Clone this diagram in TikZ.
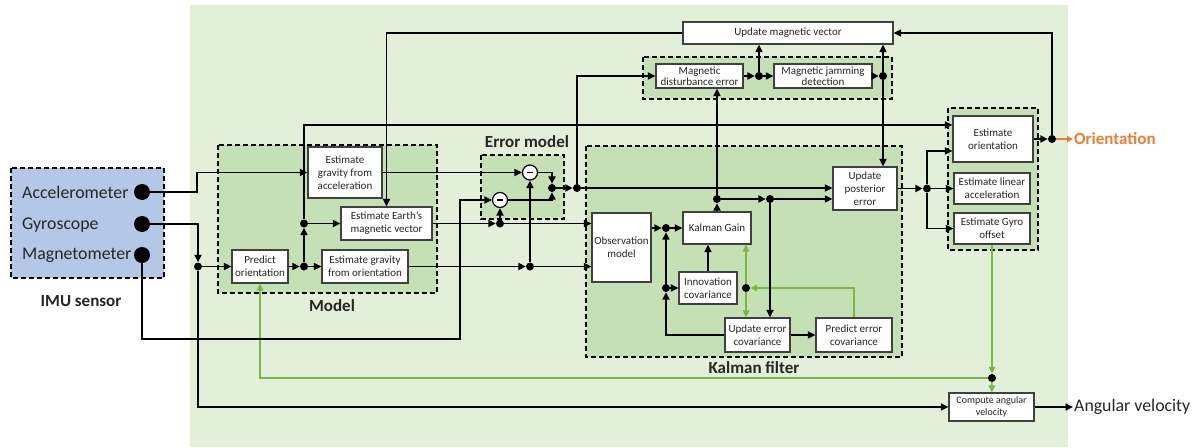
\documentclass[tikz,border=0pt]{standalone}
\usepackage{fontspec}
\setmainfont{Carlito}
\usetikzlibrary{arrows.meta}
\definecolor{bglight}{HTML}{E2F0D9}
\definecolor{grpgreen}{HTML}{C5E0B4}
\definecolor{imublue}{HTML}{B4C7E7}
\definecolor{gline}{HTML}{7AB648}
\definecolor{orangeo}{HTML}{ED7D31}
\definecolor{boxline}{HTML}{404040}
\definecolor{txt}{HTML}{262626}
\begin{document}
\begin{tikzpicture}[x=1pt,y=-1pt,
  box/.style={draw=boxline, fill=white, line width=1.2pt, align=center, inner sep=0pt, font=\fontsize{11}{13}\selectfont, text=txt},
  tightbox/.style={box, font=\fontsize{11}{11.5}\selectfont},
  grp/.style={draw=black, line width=1.1pt, dash pattern=on 5pt off 3pt, fill=grpgreen},
  dotn/.style={circle, fill=black, inner sep=0pt, minimum size=8pt},
  bigdot/.style={circle, fill=black, inner sep=0pt, minimum size=16pt},
  arr/.style={line width=1.8pt, -{Triangle[length=7.5pt,width=7pt]}},
  garr/.style={line width=1.5pt, draw=gline, -{Triangle[length=7pt,width=6.5pt]}},
  lbl/.style={font=\fontsize{17.8}{20}\selectfont, text=txt, inner sep=0pt},
  blbl/.style={font=\bfseries\fontsize{17}{20}\selectfont, text=txt, inner sep=0pt},
  minus/.style={circle, draw=black, fill=white, line width=1.2pt, inner sep=0pt, minimum size=15pt}
]
\useasboundingbox (0,0) rectangle (1199,447);
% backgrounds and groups
\fill[bglight] (190,5) rectangle (1068,447);
\draw[grp, fill=imublue] (11,168) rectangle (164,278);
\draw[grp] (218,145) rectangle (437,293);
\draw[grp] (481,155) rectangle (564,219);
\draw[grp] (586,146) rectangle (902,357);
\draw[grp] (643,57) rectangle (892,99);
\draw[grp] (948,108) rectangle (1038,250);

% labels
\node[lbl, anchor=west] (tacc) at (22,192) {Accelerometer};
\node[lbl, anchor=west] (tgyr) at (22,225) {Gyroscope};
\node[lbl, anchor=west] (tmag) at (22,255) {Magnetometer};
\node[blbl] (timu) at (81,301) {IMU sensor};
\node[blbl] (tmodel) at (332,306) {Model};
\node[blbl] (terr) at (527,142) {Error model};
\node[blbl] (tkal) at (754,368) {Kalman filter};
\node[font=\bfseries\fontsize{17}{20}\selectfont, text=orangeo, inner sep=1pt, anchor=west] (orient) at (1073,139) {Orientation};
\node[lbl, inner sep=1pt, anchor=west] (angv) at (1073,407) {Angular velocity};

% sensor dots
\node[bigdot] (acc) at (142,192) {};
\node[bigdot] (gyr) at (142,224) {};
\node[bigdot] (mag) at (142,255) {};

% boxes
\node[box, minimum width=210, minimum height=22] (umv) at (788,33) {Update magnetic vector};
\node[tightbox, minimum width=87, minimum height=24] (mde) at (699.5,76) {Magnetic\\disturbance error};
\node[tightbox, minimum width=98, minimum height=24] (mjd) at (823,76) {Magnetic jamming\\detection};
\node[box, minimum width=74, minimum height=51] (ega) at (345,172.5) {Estimate\\gravity from\\acceleration};
\node[box, minimum width=91, minimum height=33] (eem) at (386.5,223.5) {Estimate Earth’s\\magnetic vector};
\node[box, minimum width=56, minimum height=33] (po) at (260,266.5) {Predict\\orientation};
\node[box, minimum width=86, minimum height=33] (ego) at (365,266.5) {Estimate gravity\\from orientation};
\node[box, minimum width=59, minimum height=69] (om) at (621.5,247.5) {Observation\\model};
\node[box, minimum width=68, minimum height=32] (kg) at (717,228) {Kalman Gain};
\node[box, minimum width=58, minimum height=32] (ic) at (708,288) {Innovation\\covariance};
\node[box, minimum width=65, minimum height=34] (uec) at (757.5,335) {Update error\\covariance};
\node[box, minimum width=76, minimum height=34] (pec) at (854,335) {Predict error\\covariance};
\node[box, minimum width=64, minimum height=43] (upe) at (865,188.5) {Update\\posterior\\error};
\node[box, minimum width=80, minimum height=46] (eo) at (993,139) {Estimate\\orientation};
\node[box, minimum width=76, minimum height=31] (ela) at (992,188.5) {Estimate linear\\acceleration};
\node[box, minimum width=76, minimum height=31] (egyro) at (992,228.5) {Estimate Gyro\\offset};
\node[box, minimum width=85, minimum height=28, font=\fontsize{10}{12}\selectfont] (cav) at (991.5,407) {Compute angular\\velocity};

% subtract circles
\node[minus] (c1) at (530,172.5) {\rule[-0.8pt]{6pt}{1.6pt}};
\node[minus] (c2) at (500,200) {\rule[-0.8pt]{6pt}{1.6pt}};

% junction dots
\node[dotn] (dG) at (198,266.5) {};
\node[dotn] (dP) at (304,266.5) {};
\node[dotn] (dP2) at (304,223.5) {};
\node[dotn] (dE) at (500,223.5) {};
\node[dotn] (dGO) at (530,266.5) {};
\node[dotn] (dEM) at (552,188) {};
\node[dotn] (dEM2) at (577,188) {};
\node[dotn] (dKG) at (717,199) {};
\node[dotn] (dKG2) at (770,199) {};
\node[dotn] (dMD) at (759,76) {};
\node[dotn] (dMJ) at (883,76) {};
\node[dotn] (dUP) at (927,188.5) {};
\node[dotn] (dEO) at (1052,139) {};
\node[dotn] (dOM) at (666,228) {};
\node[dotn] (dIC) at (666,288) {};
\node[dotn] (dGr) at (746,288) {};
\node[dotn] (dGreen) at (992,378) {};

% green connectors
\draw[garr] (egyro) -- (dGreen);
\draw[garr] (dGreen) -- (cav);
\draw[garr] (dGreen) -| (po);
\draw[garr] (pec) |- (dGr);
\draw[garr] (dGr) -- (kg.south -| dGr);
\draw[garr] (dGr) -- (uec.north -| dGr);

% sensor inputs
\draw[arr] (acc) -- (197,192) |- (ega);
\draw[arr] (gyr) -| (dG);
\draw[arr] (dG) -- (po);
\draw[arr] (dG) |- (cav);
\draw[arr] (mag) |- (460,339) |- (c2);

% model
\draw[arr] (po) -- (dP);
\draw[arr] (dP) -- (ego);
\draw[arr] (dP) -- (dP2);
\draw[arr] (dP2) -- (eem);
\draw[arr] (dP2) |- ([yshift=14pt]eo.west);
\draw[arr] (umv) -| (eem);

% error model
\draw[arr] (ega) -- (c1);
\draw[arr] (eem) -- (dE);
\draw[arr] (dE) -- (c2);
\draw[arr] (dE) -- (om.west |- dE);
\draw[arr] (ego) -- (dGO);
\draw[arr] (dGO) -- (c1);
\draw[arr] (dGO) -- (om.west |- dGO);
\draw[arr] (c1) -| (dEM);
\draw[arr] (c2) -| (dEM);
\draw[arr] (dEM) -- (dEM2);
\draw[arr] (dEM2) |- (mde);
\draw[arr] (dEM2) -- (upe.west |- dEM2);

% magnetic
\draw[arr] (mde) -- (dMD);
\draw[arr] (dMD) -- (mjd);
\draw[arr] (dMD) -- (umv.south -| dMD);
\draw[arr] (mjd) -- (dMJ);
\draw[arr] (dMJ) -- (umv.south -| dMJ);
\draw[arr] (dMJ) -- (upe.north -| dMJ);

% Kalman
\draw[arr] (om.east |- dOM) -- (dOM);
\draw[arr] (dOM) -- (kg);
\draw[arr] (dIC) -- (ic);
\draw[arr] (uec) -| (dIC);
\draw[arr] (dIC) -- (dOM);
\draw[arr] (ic) -- (kg.south -| ic);
\draw[arr] (uec) -- (pec);
\draw[arr] (kg) -- (dKG);
\draw[arr] (dKG) -- (mde.south -| dKG);
\draw[arr] (dKG) -- (dKG2);
\draw[arr] (dKG2) -- (upe.west |- dKG2);
\draw[arr] (dKG2) -- (uec.north -| dKG2);

% outputs
\draw[arr] (upe) -- (dUP);
\draw[arr] (dUP) -- (ela);
\draw[arr] (dUP) |- ([yshift=-12pt]eo.west);
\draw[arr] (dUP) |- (egyro);
\draw[arr] (eo) -- (dEO);
\draw[arr] (dEO) |- (umv);
\draw[line width=1.7pt, orangeo, -{Triangle[length=6pt,width=6pt]}] (dEO) -- (orient);
\draw[arr] (cav) -- (angv);
\end{tikzpicture}
\end{document}
